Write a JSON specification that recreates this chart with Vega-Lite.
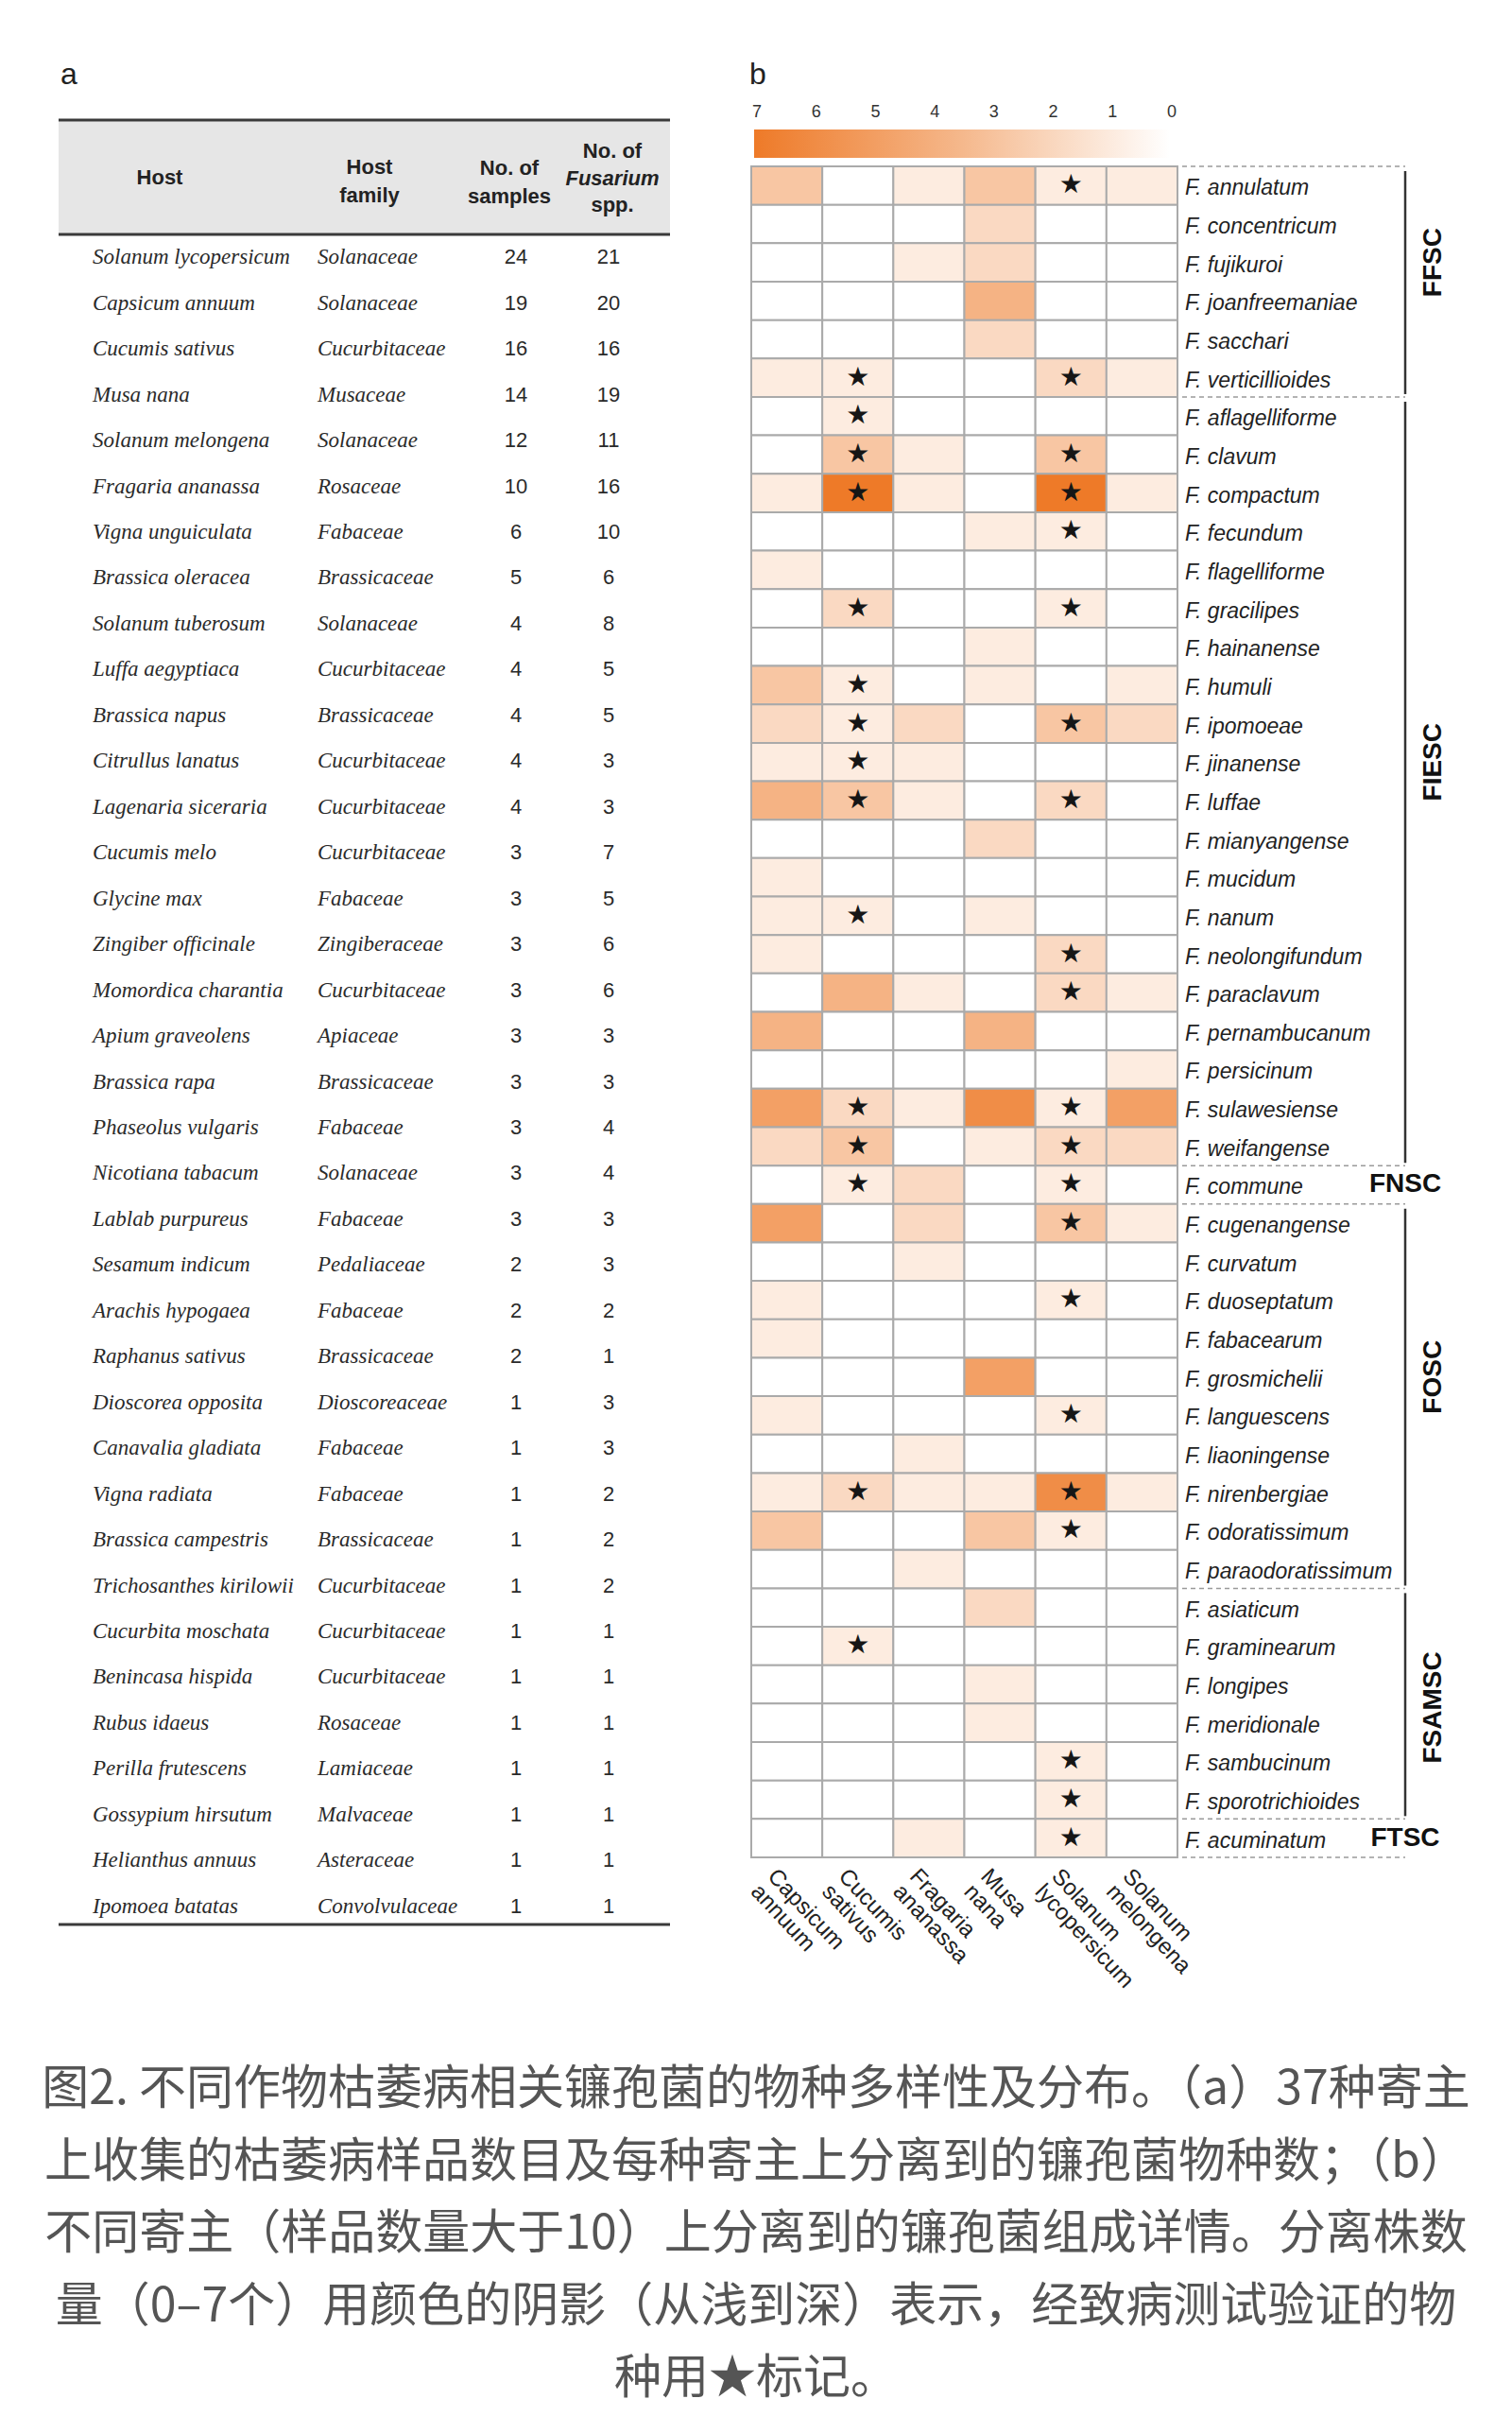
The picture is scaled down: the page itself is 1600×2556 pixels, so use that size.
{
"$schema": "https://vega.github.io/schema/vega-lite/v6.json",
"width": 1600, "height": 2556, "autosize": {"type": "none"}, "padding": 0,
"background": "white",
"config": {"view": {"stroke": null}, "axis": {"disable": true}},
"datasets": {
"table": [
{"h":"Solanum lycopersicum","f":"Solanaceae","n":24,"s":21},
{"h":"Capsicum annuum","f":"Solanaceae","n":19,"s":20},
{"h":"Cucumis sativus","f":"Cucurbitaceae","n":16,"s":16},
{"h":"Musa nana","f":"Musaceae","n":14,"s":19},
{"h":"Solanum melongena","f":"Solanaceae","n":12,"s":11},
{"h":"Fragaria ananassa","f":"Rosaceae","n":10,"s":16},
{"h":"Vigna unguiculata","f":"Fabaceae","n":6,"s":10},
{"h":"Brassica oleracea","f":"Brassicaceae","n":5,"s":6},
{"h":"Solanum tuberosum","f":"Solanaceae","n":4,"s":8},
{"h":"Luffa aegyptiaca","f":"Cucurbitaceae","n":4,"s":5},
{"h":"Brassica napus","f":"Brassicaceae","n":4,"s":5},
{"h":"Citrullus lanatus","f":"Cucurbitaceae","n":4,"s":3},
{"h":"Lagenaria siceraria","f":"Cucurbitaceae","n":4,"s":3},
{"h":"Cucumis melo","f":"Cucurbitaceae","n":3,"s":7},
{"h":"Glycine max","f":"Fabaceae","n":3,"s":5},
{"h":"Zingiber officinale","f":"Zingiberaceae","n":3,"s":6},
{"h":"Momordica charantia","f":"Cucurbitaceae","n":3,"s":6},
{"h":"Apium graveolens","f":"Apiaceae","n":3,"s":3},
{"h":"Brassica rapa","f":"Brassicaceae","n":3,"s":3},
{"h":"Phaseolus vulgaris","f":"Fabaceae","n":3,"s":4},
{"h":"Nicotiana tabacum","f":"Solanaceae","n":3,"s":4},
{"h":"Lablab purpureus","f":"Fabaceae","n":3,"s":3},
{"h":"Sesamum indicum","f":"Pedaliaceae","n":2,"s":3},
{"h":"Arachis hypogaea","f":"Fabaceae","n":2,"s":2},
{"h":"Raphanus sativus","f":"Brassicaceae","n":2,"s":1},
{"h":"Dioscorea opposita","f":"Dioscoreaceae","n":1,"s":3},
{"h":"Canavalia gladiata","f":"Fabaceae","n":1,"s":3},
{"h":"Vigna radiata","f":"Fabaceae","n":1,"s":2},
{"h":"Brassica campestris","f":"Brassicaceae","n":1,"s":2},
{"h":"Trichosanthes kirilowii","f":"Cucurbitaceae","n":1,"s":2},
{"h":"Cucurbita moschata","f":"Cucurbitaceae","n":1,"s":1},
{"h":"Benincasa hispida","f":"Cucurbitaceae","n":1,"s":1},
{"h":"Rubus idaeus","f":"Rosaceae","n":1,"s":1},
{"h":"Perilla frutescens","f":"Lamiaceae","n":1,"s":1},
{"h":"Gossypium hirsutum","f":"Malvaceae","n":1,"s":1},
{"h":"Helianthus annuus","f":"Asteraceae","n":1,"s":1},
{"h":"Ipomoea batatas","f":"Convolvulaceae","n":1,"s":1}
],
"heat": [
{"sp":"F. annulatum","g":"FFSC","st":"Sl","Ca":3,"Cs":0,"Fa":1,"Mn":3,"Sl":1,"Sm":1},
{"sp":"F. concentricum","g":"FFSC","st":"","Ca":0,"Cs":0,"Fa":0,"Mn":2,"Sl":0,"Sm":0},
{"sp":"F. fujikuroi","g":"FFSC","st":"","Ca":0,"Cs":0,"Fa":1,"Mn":2,"Sl":0,"Sm":0},
{"sp":"F. joanfreemaniae","g":"FFSC","st":"","Ca":0,"Cs":0,"Fa":0,"Mn":4,"Sl":0,"Sm":0},
{"sp":"F. sacchari","g":"FFSC","st":"","Ca":0,"Cs":0,"Fa":0,"Mn":2,"Sl":0,"Sm":0},
{"sp":"F. verticillioides","g":"FFSC","st":"Cs Sl","Ca":1,"Cs":1,"Fa":0,"Mn":0,"Sl":2,"Sm":1},
{"sp":"F. aflagelliforme","g":"FIESC","st":"Cs","Ca":0,"Cs":1,"Fa":0,"Mn":0,"Sl":0,"Sm":0},
{"sp":"F. clavum","g":"FIESC","st":"Cs Sl","Ca":0,"Cs":3,"Fa":1,"Mn":0,"Sl":3,"Sm":0},
{"sp":"F. compactum","g":"FIESC","st":"Cs Sl","Ca":1,"Cs":7,"Fa":1,"Mn":0,"Sl":7,"Sm":1},
{"sp":"F. fecundum","g":"FIESC","st":"Sl","Ca":0,"Cs":0,"Fa":0,"Mn":1,"Sl":1,"Sm":0},
{"sp":"F. flagelliforme","g":"FIESC","st":"","Ca":1,"Cs":0,"Fa":0,"Mn":0,"Sl":0,"Sm":0},
{"sp":"F. gracilipes","g":"FIESC","st":"Cs Sl","Ca":0,"Cs":2,"Fa":0,"Mn":0,"Sl":1,"Sm":0},
{"sp":"F. hainanense","g":"FIESC","st":"","Ca":0,"Cs":0,"Fa":0,"Mn":1,"Sl":0,"Sm":0},
{"sp":"F. humuli","g":"FIESC","st":"Cs","Ca":3,"Cs":1,"Fa":0,"Mn":1,"Sl":0,"Sm":1},
{"sp":"F. ipomoeae","g":"FIESC","st":"Cs Sl","Ca":2,"Cs":1,"Fa":2,"Mn":0,"Sl":3,"Sm":2},
{"sp":"F. jinanense","g":"FIESC","st":"Cs","Ca":1,"Cs":1,"Fa":1,"Mn":0,"Sl":0,"Sm":0},
{"sp":"F. luffae","g":"FIESC","st":"Cs Sl","Ca":4,"Cs":3,"Fa":1,"Mn":0,"Sl":2,"Sm":0},
{"sp":"F. mianyangense","g":"FIESC","st":"","Ca":0,"Cs":0,"Fa":0,"Mn":2,"Sl":0,"Sm":0},
{"sp":"F. mucidum","g":"FIESC","st":"","Ca":1,"Cs":0,"Fa":0,"Mn":0,"Sl":0,"Sm":0},
{"sp":"F. nanum","g":"FIESC","st":"Cs","Ca":1,"Cs":1,"Fa":0,"Mn":1,"Sl":0,"Sm":0},
{"sp":"F. neolongifundum","g":"FIESC","st":"Sl","Ca":1,"Cs":0,"Fa":0,"Mn":0,"Sl":2,"Sm":0},
{"sp":"F. paraclavum","g":"FIESC","st":"Sl","Ca":0,"Cs":4,"Fa":1,"Mn":0,"Sl":2,"Sm":1},
{"sp":"F. pernambucanum","g":"FIESC","st":"","Ca":4,"Cs":0,"Fa":0,"Mn":4,"Sl":0,"Sm":0},
{"sp":"F. persicinum","g":"FIESC","st":"","Ca":0,"Cs":0,"Fa":0,"Mn":0,"Sl":0,"Sm":1},
{"sp":"F. sulawesiense","g":"FIESC","st":"Cs Sl","Ca":5,"Cs":2,"Fa":1,"Mn":6,"Sl":1,"Sm":5},
{"sp":"F. weifangense","g":"FIESC","st":"Cs Sl","Ca":2,"Cs":3,"Fa":0,"Mn":1,"Sl":2,"Sm":2},
{"sp":"F. commune","g":"FNSC","st":"Cs Sl","Ca":0,"Cs":1,"Fa":2,"Mn":0,"Sl":1,"Sm":0},
{"sp":"F. cugenangense","g":"FOSC","st":"Sl","Ca":5,"Cs":0,"Fa":2,"Mn":0,"Sl":3,"Sm":1},
{"sp":"F. curvatum","g":"FOSC","st":"","Ca":0,"Cs":0,"Fa":1,"Mn":0,"Sl":0,"Sm":0},
{"sp":"F. duoseptatum","g":"FOSC","st":"Sl","Ca":1,"Cs":0,"Fa":0,"Mn":0,"Sl":1,"Sm":0},
{"sp":"F. fabacearum","g":"FOSC","st":"","Ca":1,"Cs":0,"Fa":0,"Mn":0,"Sl":0,"Sm":0},
{"sp":"F. grosmichelii","g":"FOSC","st":"","Ca":0,"Cs":0,"Fa":0,"Mn":5,"Sl":0,"Sm":0},
{"sp":"F. languescens","g":"FOSC","st":"Sl","Ca":1,"Cs":0,"Fa":0,"Mn":0,"Sl":1,"Sm":0},
{"sp":"F. liaoningense","g":"FOSC","st":"","Ca":0,"Cs":0,"Fa":1,"Mn":0,"Sl":0,"Sm":0},
{"sp":"F. nirenbergiae","g":"FOSC","st":"Cs Sl","Ca":1,"Cs":2,"Fa":1,"Mn":1,"Sl":6,"Sm":1},
{"sp":"F. odoratissimum","g":"FOSC","st":"Sl","Ca":3,"Cs":0,"Fa":0,"Mn":3,"Sl":1,"Sm":0},
{"sp":"F. paraodoratissimum","g":"FOSC","st":"","Ca":0,"Cs":0,"Fa":1,"Mn":0,"Sl":0,"Sm":0},
{"sp":"F. asiaticum","g":"FSAMSC","st":"","Ca":0,"Cs":0,"Fa":0,"Mn":2,"Sl":0,"Sm":0},
{"sp":"F. graminearum","g":"FSAMSC","st":"Cs","Ca":0,"Cs":1,"Fa":0,"Mn":0,"Sl":0,"Sm":0},
{"sp":"F. longipes","g":"FSAMSC","st":"","Ca":0,"Cs":0,"Fa":0,"Mn":1,"Sl":0,"Sm":0},
{"sp":"F. meridionale","g":"FSAMSC","st":"","Ca":0,"Cs":0,"Fa":0,"Mn":1,"Sl":0,"Sm":0},
{"sp":"F. sambucinum","g":"FSAMSC","st":"Sl","Ca":0,"Cs":0,"Fa":0,"Mn":0,"Sl":1,"Sm":0},
{"sp":"F. sporotrichioides","g":"FSAMSC","st":"Sl","Ca":0,"Cs":0,"Fa":0,"Mn":0,"Sl":1,"Sm":0},
{"sp":"F. acuminatum","g":"FTSC","st":"Sl","Ca":0,"Cs":0,"Fa":1,"Mn":0,"Sl":1,"Sm":0}
],
"groups": [
{"g":"FFSC","first":"F. annulatum","last":"F. verticillioides","mid":"F. fujikuroi","kind":"v"},
{"g":"FIESC","first":"F. aflagelliforme","last":"F. weifangense","mid":"F. jinanense","kind":"v"},
{"g":"FNSC","first":"F. commune","last":"F. commune","mid":"F. commune","kind":"h"},
{"g":"FOSC","first":"F. cugenangense","last":"F. paraodoratissimum","mid":"F. grosmichelii","kind":"v"},
{"g":"FSAMSC","first":"F. asiaticum","last":"F. sporotrichioides","mid":"F. meridionale","kind":"v"},
{"g":"FTSC","first":"F. acuminatum","last":"F. acuminatum","mid":"F. acuminatum","kind":"h"}
],
"hosts": [
{"k":"Ca","name":"Capsicum annuum"},
{"k":"Cs","name":"Cucumis sativus"},
{"k":"Fa","name":"Fragaria ananassa"},
{"k":"Mn","name":"Musa nana"},
{"k":"Sl","name":"Solanum lycopersicum"},
{"k":"Sm","name":"Solanum melongena"}
],
"caption": [
{"i":1,"t":"图2. 不同作物枯萎病相关镰孢菌的物种多样性及分布。（a）37种寄主"},
{"i":2,"t":"上收集的枯萎病样品数目及每种寄主上分离到的镰孢菌物种数；（b）"},
{"i":3,"t":"不同寄主（样品数量大于10）上分离到的镰孢菌组成详情。分离株数"},
{"i":4,"t":"量（0–7个）用颜色的阴影（从浅到深）表示，经致病测试验证的物"},
{"i":5,"t":"种用★标记。"}
]
},
"layer": [
{"data":{"values":[{}]},"mark":{"type":"rect","color":"#e6e6e6"},
 "encoding":{"x":{"datum":0,"type":"quantitative","scale":{"domain":[0,1],"range":[62,709]}},"x2":{"datum":1},
 "y":{"datum":0,"type":"quantitative","scale":{"domain":[0,1],"range":[127,248]}},"y2":{"datum":1}}},
{"data":{"values":[{"e":0},{"e":1}]},"mark":{"type":"rule","color":"#3a3a3a","strokeWidth":3},
 "encoding":{"x":{"datum":0,"type":"quantitative","scale":{"domain":[0,1],"range":[62,709]}},"x2":{"datum":1},
 "y":{"field":"e","type":"quantitative","scale":{"domain":[0,1],"range":[127,248]}}}},
{"data":{"values":[{}]},"mark":{"type":"rule","color":"#3a3a3a","strokeWidth":3},
 "encoding":{"x":{"datum":0,"type":"quantitative","scale":{"domain":[0,1],"range":[62,709]}},"x2":{"datum":1},
 "y":{"datum":0,"type":"quantitative","scale":{"domain":[0,1],"range":[2036,2036]}}}},
{"data":{"values":[{}]},"mark":{"type":"text","text":"Host","font":"Liberation Sans","fontWeight":"bold","fontSize":22,"color":"#222","align":"center","baseline":"middle"},
 "encoding":{"x":{"datum":0,"type":"quantitative","scale":{"domain":[0,1],"range":[169,169]}},
 "y":{"datum":0,"type":"quantitative","scale":{"domain":[0,1],"range":[188,188]}}}},
{"data":{"values":[{}]},"mark":{"type":"text","text":"Host\nfamily","lineBreak":"\n","lineHeight":30,"font":"Liberation Sans","fontWeight":"bold","fontSize":22,"color":"#222","align":"center","baseline":"middle"},
 "encoding":{"x":{"datum":0,"type":"quantitative","scale":{"domain":[0,1],"range":[391,391]}},
 "y":{"datum":0,"type":"quantitative","scale":{"domain":[0,1],"range":[177,177]}}}},
{"data":{"values":[{}]},"mark":{"type":"text","text":"No. of\nsamples","lineBreak":"\n","lineHeight":30,"font":"Liberation Sans","fontWeight":"bold","fontSize":22,"color":"#222","align":"center","baseline":"middle"},
 "encoding":{"x":{"datum":0,"type":"quantitative","scale":{"domain":[0,1],"range":[539,539]}},
 "y":{"datum":0,"type":"quantitative","scale":{"domain":[0,1],"range":[178,178]}}}},
{"data":{"values":[{"t":"No. of","l":0},{"t":"spp.","l":2}]},"mark":{"type":"text","font":"Liberation Sans","fontWeight":"bold","fontSize":22,"color":"#222","align":"center","baseline":"middle"},
 "encoding":{"x":{"datum":0,"type":"quantitative","scale":{"domain":[0,1],"range":[648,648]}},
 "y":{"field":"l","type":"quantitative","scale":{"domain":[0,2],"range":[160,217]}},"text":{"field":"t"}}},
{"data":{"values":[{}]},"mark":{"type":"text","text":"Fusarium","font":"Liberation Sans","fontWeight":"bold","fontStyle":"italic","fontSize":22,"color":"#222","align":"center","baseline":"middle"},
 "encoding":{"x":{"datum":0,"type":"quantitative","scale":{"domain":[0,1],"range":[648,648]}},
 "y":{"datum":0,"type":"quantitative","scale":{"domain":[0,1],"range":[188.5,188.5]}}}},
{"data":{"name":"table"},"mark":{"type":"text","align":"left","baseline":"middle","font":"Liberation Serif","fontStyle":"italic","fontSize":23,"color":"#2a2a2a"},
 "encoding":{"y":{"field":"h","type":"nominal","sort":null,"scale":{"type":"point","range":[248,2041]}},
 "x":{"datum":0,"type":"quantitative","scale":{"domain":[0,1],"range":[98,98]}},"text":{"field":"h"}}},
{"data":{"name":"table"},"mark":{"type":"text","align":"left","baseline":"middle","font":"Liberation Serif","fontStyle":"italic","fontSize":23,"color":"#2a2a2a"},
 "encoding":{"y":{"field":"h","type":"nominal","sort":null,"scale":{"type":"point","range":[248,2041]}},
 "x":{"datum":0,"type":"quantitative","scale":{"domain":[0,1],"range":[336,336]}},"text":{"field":"f"}}},
{"data":{"name":"table"},"mark":{"type":"text","align":"center","baseline":"middle","font":"Liberation Sans","fontSize":22,"color":"#2a2a2a"},
 "encoding":{"y":{"field":"h","type":"nominal","sort":null,"scale":{"type":"point","range":[248,2041]}},
 "x":{"datum":0,"type":"quantitative","scale":{"domain":[0,1],"range":[546,546]}},"text":{"field":"n"}}},
{"data":{"name":"table"},"mark":{"type":"text","align":"center","baseline":"middle","font":"Liberation Sans","fontSize":22,"color":"#2a2a2a"},
 "encoding":{"y":{"field":"h","type":"nominal","sort":null,"scale":{"type":"point","range":[248,2041]}},
 "x":{"datum":0,"type":"quantitative","scale":{"domain":[0,1],"range":[644,644]}},"text":{"field":"s"}}},
{"data":{"values":[{"p":"a"},{"p":"b"}]},"mark":{"type":"text","align":"left","baseline":"alphabetic","font":"Liberation Sans","fontSize":32,"color":"#222"},
 "encoding":{"x":{"field":"p","type":"nominal","scale":{"type":"point","domain":["a","b"],"range":[64,793],"padding":0}},
 "y":{"datum":0,"type":"quantitative","scale":{"domain":[0,1],"range":[89,89]}},"text":{"field":"p"}}},
{"data":{"values":[{}]},"mark":{"type":"rect","color":{"gradient":"linear","x1":0,"x2":1,"y1":0,"y2":0,"stops":[{"offset":0,"color":"#ee7a28"},{"offset":0.5,"color":"#f5b88c"},{"offset":1,"color":"#ffffff"}]}},
 "encoding":{"x":{"datum":0,"type":"quantitative","scale":{"domain":[0,1],"range":[798,1238]}},"x2":{"datum":1},
 "y":{"datum":0,"type":"quantitative","scale":{"domain":[0,1],"range":[137,167]}},"y2":{"datum":1}}},
{"data":{"values":[{"v":7},{"v":6},{"v":5},{"v":4},{"v":3},{"v":2},{"v":1},{"v":0}]},"mark":{"type":"text","align":"center","baseline":"middle","font":"Liberation Sans","fontSize":18,"color":"#333"},
 "encoding":{"x":{"field":"v","type":"quantitative","scale":{"domain":[7,0],"range":[801,1240]}},
 "y":{"datum":0,"type":"quantitative","scale":{"domain":[0,1],"range":[119,119]}},"text":{"field":"v"}}},
{"data":{"name":"heat"},"transform":[{"fold":["Ca","Cs","Fa","Mn","Sl","Sm"]}],
 "mark":{"type":"rect","stroke":"#aaaaaa","strokeWidth":2},
 "encoding":{"x":{"field":"key","type":"nominal","scale":{"type":"band","domain":["Ca","Cs","Fa","Mn","Sl","Sm"],"range":[795,1246],"paddingInner":0,"paddingOuter":0}},
 "y":{"field":"sp","type":"nominal","sort":null,"scale":{"type":"band","domain":["F. annulatum","F. concentricum","F. fujikuroi","F. joanfreemaniae","F. sacchari","F. verticillioides","F. aflagelliforme","F. clavum","F. compactum","F. fecundum","F. flagelliforme","F. gracilipes","F. hainanense","F. humuli","F. ipomoeae","F. jinanense","F. luffae","F. mianyangense","F. mucidum","F. nanum","F. neolongifundum","F. paraclavum","F. pernambucanum","F. persicinum","F. sulawesiense","F. weifangense","F. commune","F. cugenangense","F. curvatum","F. duoseptatum","F. fabacearum","F. grosmichelii","F. languescens","F. liaoningense","F. nirenbergiae","F. odoratissimum","F. paraodoratissimum","F. asiaticum","F. graminearum","F. longipes","F. meridionale","F. sambucinum","F. sporotrichioides","F. acuminatum"],"range":[176,1965],"paddingInner":0,"paddingOuter":0}},
 "color":{"field":"value","type":"quantitative","scale":{"domain":[0,7],"range":["#ffffff","#ee7a28"],"interpolate":"rgb"},"legend":null}}},
{"data":{"name":"heat"},"transform":[{"fold":["Ca","Cs","Fa","Mn","Sl","Sm"]},{"filter":"indexof(datum.st, datum.key) >= 0"}],
 "mark":{"type":"text","text":"★","font":"DejaVu Sans","fontSize":28,"color":"#161616","align":"center","baseline":"middle"},
 "encoding":{"x":{"field":"key","type":"nominal","scale":{"type":"band","domain":["Ca","Cs","Fa","Mn","Sl","Sm"],"range":[795,1246],"paddingInner":0,"paddingOuter":0}},
 "y":{"field":"sp","type":"nominal","sort":null,"scale":{"type":"band","domain":["F. annulatum","F. concentricum","F. fujikuroi","F. joanfreemaniae","F. sacchari","F. verticillioides","F. aflagelliforme","F. clavum","F. compactum","F. fecundum","F. flagelliforme","F. gracilipes","F. hainanense","F. humuli","F. ipomoeae","F. jinanense","F. luffae","F. mianyangense","F. mucidum","F. nanum","F. neolongifundum","F. paraclavum","F. pernambucanum","F. persicinum","F. sulawesiense","F. weifangense","F. commune","F. cugenangense","F. curvatum","F. duoseptatum","F. fabacearum","F. grosmichelii","F. languescens","F. liaoningense","F. nirenbergiae","F. odoratissimum","F. paraodoratissimum","F. asiaticum","F. graminearum","F. longipes","F. meridionale","F. sambucinum","F. sporotrichioides","F. acuminatum"],"range":[176,1965],"paddingInner":0,"paddingOuter":0}}}},
{"data":{"name":"heat"},"mark":{"type":"text","align":"left","baseline":"middle","dy":3,"font":"Liberation Sans","fontStyle":"italic","fontSize":23,"color":"#222"},
 "encoding":{"y":{"field":"sp","type":"nominal","sort":null,"scale":{"type":"band","range":[176,1965],"paddingInner":0,"paddingOuter":0}},
 "x":{"datum":0,"type":"quantitative","scale":{"domain":[0,1],"range":[1254,1254]}},"text":{"field":"sp"}}},
{"data":{"name":"groups"},"mark":{"type":"rule","color":"#9a9a9a","strokeWidth":1.5,"strokeDash":[5,4]},
 "encoding":{"x":{"datum":0,"type":"quantitative","scale":{"domain":[0,1],"range":[1251,1487]}},"x2":{"datum":1},
 "y":{"field":"first","type":"nominal","bandPosition":0,"scale":{"type":"band","domain":["F. annulatum","F. concentricum","F. fujikuroi","F. joanfreemaniae","F. sacchari","F. verticillioides","F. aflagelliforme","F. clavum","F. compactum","F. fecundum","F. flagelliforme","F. gracilipes","F. hainanense","F. humuli","F. ipomoeae","F. jinanense","F. luffae","F. mianyangense","F. mucidum","F. nanum","F. neolongifundum","F. paraclavum","F. pernambucanum","F. persicinum","F. sulawesiense","F. weifangense","F. commune","F. cugenangense","F. curvatum","F. duoseptatum","F. fabacearum","F. grosmichelii","F. languescens","F. liaoningense","F. nirenbergiae","F. odoratissimum","F. paraodoratissimum","F. asiaticum","F. graminearum","F. longipes","F. meridionale","F. sambucinum","F. sporotrichioides","F. acuminatum"],"range":[176,1965],"paddingInner":0,"paddingOuter":0}}}},
{"data":{"name":"groups"},"transform":[{"filter":"datum.g == 'FTSC'"}],"mark":{"type":"rule","color":"#9a9a9a","strokeWidth":1.5,"strokeDash":[5,4]},
 "encoding":{"x":{"datum":0,"type":"quantitative","scale":{"domain":[0,1],"range":[1251,1487]}},"x2":{"datum":1},
 "y":{"field":"last","type":"nominal","bandPosition":1,"scale":{"type":"band","domain":["F. annulatum","F. concentricum","F. fujikuroi","F. joanfreemaniae","F. sacchari","F. verticillioides","F. aflagelliforme","F. clavum","F. compactum","F. fecundum","F. flagelliforme","F. gracilipes","F. hainanense","F. humuli","F. ipomoeae","F. jinanense","F. luffae","F. mianyangense","F. mucidum","F. nanum","F. neolongifundum","F. paraclavum","F. pernambucanum","F. persicinum","F. sulawesiense","F. weifangense","F. commune","F. cugenangense","F. curvatum","F. duoseptatum","F. fabacearum","F. grosmichelii","F. languescens","F. liaoningense","F. nirenbergiae","F. odoratissimum","F. paraodoratissimum","F. asiaticum","F. graminearum","F. longipes","F. meridionale","F. sambucinum","F. sporotrichioides","F. acuminatum"],"range":[176,1965],"paddingInner":0,"paddingOuter":0}}}},
{"data":{"name":"groups"},"transform":[{"filter":"datum.kind == 'v'"}],"mark":{"type":"rule","color":"#333333","strokeWidth":2.5,"yOffset":5,"y2Offset":-3},
 "encoding":{"x":{"datum":0,"type":"quantitative","scale":{"domain":[0,1],"range":[1487,1487]}},
 "y":{"field":"first","type":"nominal","bandPosition":0,"scale":{"type":"band","domain":["F. annulatum","F. concentricum","F. fujikuroi","F. joanfreemaniae","F. sacchari","F. verticillioides","F. aflagelliforme","F. clavum","F. compactum","F. fecundum","F. flagelliforme","F. gracilipes","F. hainanense","F. humuli","F. ipomoeae","F. jinanense","F. luffae","F. mianyangense","F. mucidum","F. nanum","F. neolongifundum","F. paraclavum","F. pernambucanum","F. persicinum","F. sulawesiense","F. weifangense","F. commune","F. cugenangense","F. curvatum","F. duoseptatum","F. fabacearum","F. grosmichelii","F. languescens","F. liaoningense","F. nirenbergiae","F. odoratissimum","F. paraodoratissimum","F. asiaticum","F. graminearum","F. longipes","F. meridionale","F. sambucinum","F. sporotrichioides","F. acuminatum"],"range":[176,1965],"paddingInner":0,"paddingOuter":0}},
 "y2":{"field":"last","bandPosition":1}}},
{"data":{"name":"groups"},"transform":[{"filter":"datum.kind == 'v' && datum.g != 'FSAMSC'"}],"mark":{"type":"text","angle":270,"align":"center","baseline":"middle","font":"Liberation Sans","fontWeight":"bold","fontSize":28,"color":"#111"},
 "encoding":{"x":{"datum":0,"type":"quantitative","scale":{"domain":[0,1],"range":[1517,1517]}},
 "y":{"field":"mid","type":"nominal","bandPosition":0.5,"scale":{"type":"band","domain":["F. annulatum","F. concentricum","F. fujikuroi","F. joanfreemaniae","F. sacchari","F. verticillioides","F. aflagelliforme","F. clavum","F. compactum","F. fecundum","F. flagelliforme","F. gracilipes","F. hainanense","F. humuli","F. ipomoeae","F. jinanense","F. luffae","F. mianyangense","F. mucidum","F. nanum","F. neolongifundum","F. paraclavum","F. pernambucanum","F. persicinum","F. sulawesiense","F. weifangense","F. commune","F. cugenangense","F. curvatum","F. duoseptatum","F. fabacearum","F. grosmichelii","F. languescens","F. liaoningense","F. nirenbergiae","F. odoratissimum","F. paraodoratissimum","F. asiaticum","F. graminearum","F. longipes","F. meridionale","F. sambucinum","F. sporotrichioides","F. acuminatum"],"range":[176,1965],"paddingInner":0,"paddingOuter":0}},
 "text":{"field":"g"}}},
{"data":{"name":"groups"},"transform":[{"filter":"datum.g == 'FSAMSC'"}],"mark":{"type":"text","angle":270,"align":"center","baseline":"middle","font":"Liberation Sans","fontWeight":"bold","fontSize":28,"color":"#111"},
 "encoding":{"x":{"datum":0,"type":"quantitative","scale":{"domain":[0,1],"range":[1517,1517]}},
 "y":{"field":"mid","type":"nominal","bandPosition":0.1,"scale":{"type":"band","domain":["F. annulatum","F. concentricum","F. fujikuroi","F. joanfreemaniae","F. sacchari","F. verticillioides","F. aflagelliforme","F. clavum","F. compactum","F. fecundum","F. flagelliforme","F. gracilipes","F. hainanense","F. humuli","F. ipomoeae","F. jinanense","F. luffae","F. mianyangense","F. mucidum","F. nanum","F. neolongifundum","F. paraclavum","F. pernambucanum","F. persicinum","F. sulawesiense","F. weifangense","F. commune","F. cugenangense","F. curvatum","F. duoseptatum","F. fabacearum","F. grosmichelii","F. languescens","F. liaoningense","F. nirenbergiae","F. odoratissimum","F. paraodoratissimum","F. asiaticum","F. graminearum","F. longipes","F. meridionale","F. sambucinum","F. sporotrichioides","F. acuminatum"],"range":[176,1965],"paddingInner":0,"paddingOuter":0}},
 "text":{"field":"g"}}},
{"data":{"name":"groups"},"transform":[{"filter":"datum.kind == 'h'"}],"mark":{"type":"text","align":"center","baseline":"middle","font":"Liberation Sans","fontWeight":"bold","fontSize":28,"color":"#111"},
 "encoding":{"x":{"datum":0,"type":"quantitative","scale":{"domain":[0,1],"range":[1487,1487]}},
 "y":{"field":"mid","type":"nominal","bandPosition":0.5,"scale":{"type":"band","domain":["F. annulatum","F. concentricum","F. fujikuroi","F. joanfreemaniae","F. sacchari","F. verticillioides","F. aflagelliforme","F. clavum","F. compactum","F. fecundum","F. flagelliforme","F. gracilipes","F. hainanense","F. humuli","F. ipomoeae","F. jinanense","F. luffae","F. mianyangense","F. mucidum","F. nanum","F. neolongifundum","F. paraclavum","F. pernambucanum","F. persicinum","F. sulawesiense","F. weifangense","F. commune","F. cugenangense","F. curvatum","F. duoseptatum","F. fabacearum","F. grosmichelii","F. languescens","F. liaoningense","F. nirenbergiae","F. odoratissimum","F. paraodoratissimum","F. asiaticum","F. graminearum","F. longipes","F. meridionale","F. sambucinum","F. sporotrichioides","F. acuminatum"],"range":[176,1965],"paddingInner":0,"paddingOuter":0}},
 "text":{"field":"g"}}},
{"data":{"name":"hosts"},"mark":{"type":"text","angle":47,"align":"left","baseline":"top","lineBreak":" ","lineHeight":24,"font":"Liberation Sans","fontSize":24,"color":"#222"},
 "encoding":{"x":{"field":"k","type":"nominal","bandPosition":0.4,"scale":{"type":"band","domain":["Ca","Cs","Fa","Mn","Sl","Sm"],"range":[795,1246],"paddingInner":0,"paddingOuter":0}},
 "y":{"datum":0,"type":"quantitative","scale":{"domain":[0,1],"range":[1973,1973]}},"text":{"field":"name"}}},
{"data":{"name":"caption"},"mark":{"type":"text","align":"center","baseline":"middle","font":"Noto Sans CJK SC","fontSize":50,"color":"#555555"},
 "encoding":{"y":{"field":"i","type":"quantitative","scale":{"domain":[1,5],"range":[2211,2517]}},
 "x":{"datum":0,"type":"quantitative","scale":{"domain":[0,1],"range":[800,800]}},"text":{"field":"t"}}}
],
"resolve": {"scale": {"x": "independent", "y": "independent", "color": "independent"}}
}
